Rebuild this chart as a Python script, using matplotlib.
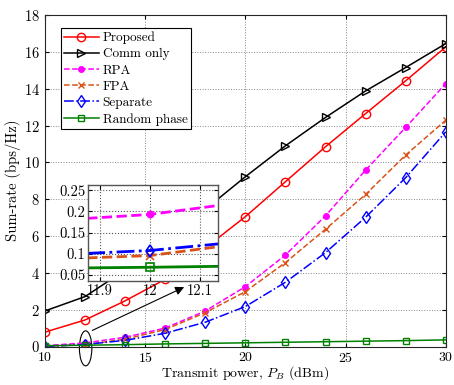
import numpy as np
import matplotlib.pyplot as plt
from matplotlib.patches import Ellipse

plt.rcParams['font.family'] = 'cmr10'
plt.rcParams['mathtext.fontset'] = 'cm'
plt.rcParams['axes.formatter.use_mathtext'] = True

# Data
power_dbm = np.array([10, 12, 14, 16, 18, 20, 22, 24, 26, 28, 30])
proposed = np.array([0.78, 1.44, 2.48, 3.65, 5.35, 7.05, 8.95, 10.85, 12.65, 14.43, 16.27])
comm_only = np.array([1.93, 2.71, 4.15, 5.85, 7.45, 9.22, 10.9, 12.44, 13.88, 15.15, 16.45])
rpa = np.array([0.047, 0.193, 0.50, 1.0, 1.93, 3.25, 4.97, 7.1, 9.58, 11.9, 14.28])
fpa = np.array([0.01, 0.096, 0.40, 0.92, 1.84, 2.98, 4.56, 6.37, 8.26, 10.4, 12.29])
separate = np.array([0.0, 0.108, 0.334, 0.72, 1.32, 2.17, 3.49, 5.1, 7.02, 9.17, 11.66])
random_phase = np.array([0.045, 0.0685, 0.10, 0.14, 0.17, 0.20, 0.23, 0.26, 0.29, 0.32, 0.36])

series = [
    ('Proposed', proposed, dict(color='#FF0000', ls='-', marker='o', mfc='none', ms=6)),
    ('Comm only', comm_only, dict(color='#000000', ls='-', marker='>', mfc='none', ms=6)),
    ('RPA', rpa, dict(color='#FF00FF', ls='--', marker='o', mfc='#FF00FF', ms=4)),
    ('FPA', fpa, dict(color='#D95319', ls='--', marker='x', ms=5)),
    ('Separate', separate, dict(color='#0000FF', ls='-.', marker='d', mfc='none', ms=6)),
    ('Random phase', random_phase, dict(color='#008000', ls='-', marker='s', mfc='none', ms=5)),
]

fig = plt.figure(figsize=(4.54, 3.85), dpi=100)
ax = fig.add_axes([0.099, 0.1, 0.883, 0.861])

for name, vals, st in series:
    ax.plot(power_dbm, vals, lw=1.1, mew=1.0, label=name, **st)

ax.set_xlim(10, 30)
ax.set_ylim(0, 18)
ax.set_xticks([10, 15, 20, 25, 30])
ax.set_yticks(np.arange(0, 19, 2))
ax.grid(True, ls=':', color='#888888', lw=0.7)
ax.tick_params(direction='in', top=True, right=True, length=3, labelsize=10.5)
ax.tick_params(axis='x', pad=3.5, labelsize=10)
ax.tick_params(axis='y', pad=3.5)
for s in ax.spines.values():
    s.set_color('#262626')
    s.set_linewidth(0.8)
ax.set_xlabel('Transmit power, $P_B$ (dBm)', fontsize=10, labelpad=-0.5)
ax.set_ylabel('Sum-rate (bps/Hz)', fontsize=10.5, labelpad=2)

leg = ax.legend(loc='upper left', bbox_to_anchor=(0.04, 0.96), fontsize=9.5,
                frameon=True, fancybox=False, framealpha=1, edgecolor='black',
                handlelength=2.6, handletextpad=0.3, labelspacing=0.3,
                borderpad=0.25, borderaxespad=0)
leg.get_frame().set_linewidth(0.8)

# zoom marker and arrow
ell = Ellipse((12.03, -0.1), 0.62, 1.9, fill=False, color='black', lw=0.8, clip_on=False)
ax.add_patch(ell)
ax.annotate('', xy=(17.07, 3.29), xytext=(12.24, 0.81),
            arrowprops=dict(arrowstyle='-|>', color='black', lw=0.8, mutation_scale=13))

# inset
ins = fig.add_axes([0.194, 0.270, 0.286, 0.249])
for name, vals, st in series:
    st2 = dict(st)
    st2['ms'] = st['ms'] + 0.5
    ins.plot(power_dbm, vals, lw=2.0, mew=1.2, **st2)
ins.set_xlim(11.876, 12.137)
ins.set_ylim(0.036, 0.262)
ins.set_xticks([11.9, 12, 12.1])
ins.set_xticklabels(['11.9', '12', '12.1'])
ins.set_yticks([0.05, 0.1, 0.15, 0.2, 0.25])
ins.set_yticklabels(['0.05', '0.1', '0.15', '0.2', '0.25'])
ins.grid(True, ls=':', color='#555555', lw=0.8)
ins.tick_params(direction='in', top=True, right=True, length=3, labelsize=10.5, pad=2)
for s in ins.spines.values():
    s.set_color('#555555')
    s.set_linewidth(1.0)

fig.savefig('out.png', dpi=100)
